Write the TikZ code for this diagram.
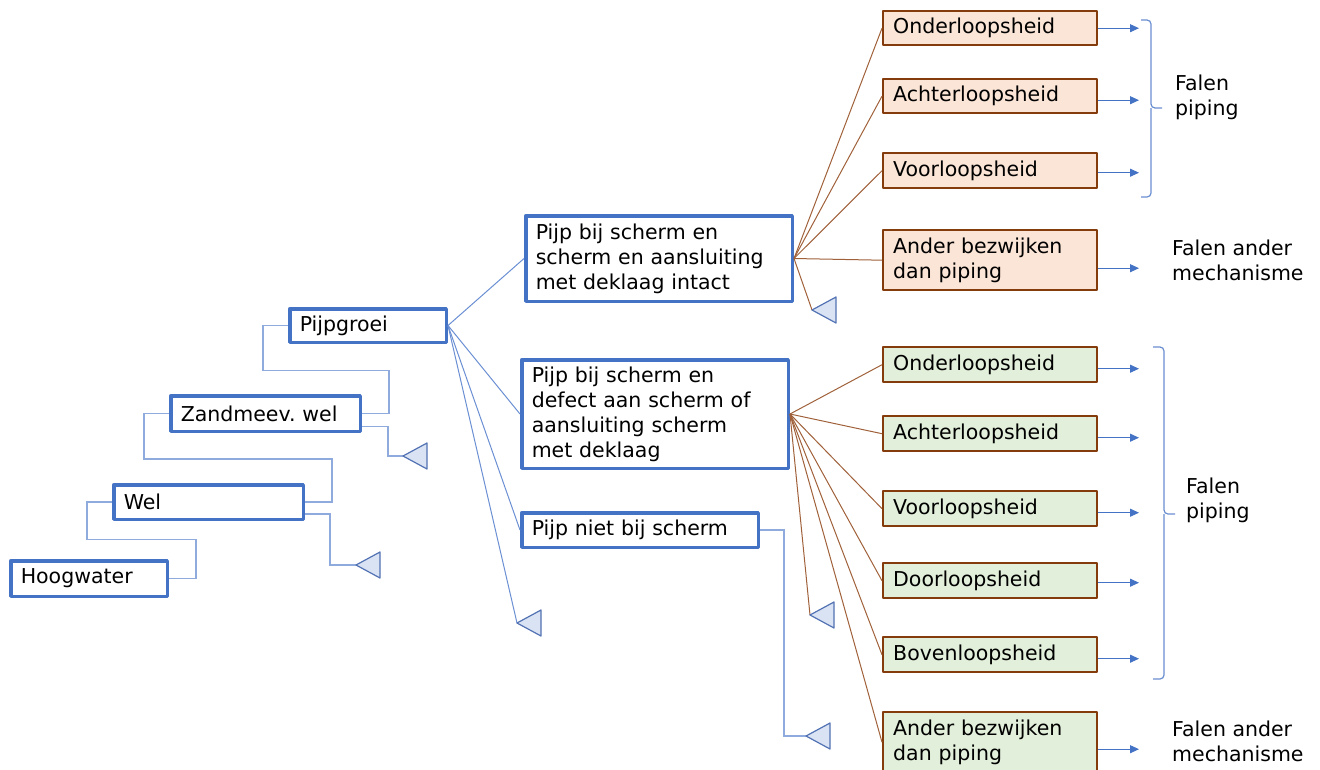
\documentclass[tikz,border=0pt]{standalone}
\usepackage{fontspec}
\setmainfont{DejaVu Sans}
\usepackage{tikz}
\usetikzlibrary{arrows.meta}
\usetikzlibrary{calc}

\definecolor{boxblue}{HTML}{4472C4}
\definecolor{elbowblue}{HTML}{8FAADC}
\definecolor{fanblue}{HTML}{6B8FD3}
\definecolor{fanbrown}{HTML}{A0613A}
\definecolor{boxbrown}{HTML}{843C0C}
\definecolor{orangefill}{HTML}{FBE5D6}
\definecolor{greenfill}{HTML}{E2EFDA}
\definecolor{trifill}{HTML}{DAE3F3}
\definecolor{triedge}{HTML}{5272B4}

\begin{document}
\begin{tikzpicture}[x=1pt,y=-1pt,
 every node/.style={font=\fontsize{20.5}{25}\selectfont},
 bluebox/.style={draw=boxblue,line width=3.5pt,fill=white,inner xsep=10pt,inner ysep=0pt,
   align=left,anchor=north west,line join=round},
 brownbox/.style={draw=boxbrown,line width=2.4pt,inner xsep=10pt,inner ysep=0pt,
   align=left,anchor=north west,text width=193.6pt,line join=round},
 orangebox/.style={brownbox,fill=orangefill},
 greenbox/.style={brownbox,fill=greenfill},
 falentext/.style={anchor=west,align=left,inner sep=0pt},
 elbow/.style={draw=elbowblue,line width=1.5pt},
 fan/.style={draw=fanblue,line width=1pt},
 brownfan/.style={draw=fanbrown,line width=1pt},
 outarrow/.style={draw=boxblue,line width=1pt,-{Triangle[length=9pt,width=8pt]}},
 braceline/.style={draw=boxblue!80,line width=1.2pt,rounded corners=4pt},
 stopmark/.style={draw=triedge,fill=trifill,line width=1.2pt,line join=round}]
 \useasboundingbox (0,0) rectangle (1320,769);
 \clip (0,0) rectangle (1320,769);

 \node[bluebox,text width=136.5pt,minimum height=35.5pt] (hoog) at (9,559) {Hoogwater};
 \node[bluebox,text width=169.5pt,minimum height=34.5pt] (wel) at (112,483) {Wel};
 \node[bluebox,text width=169.5pt,minimum height=35.5pt] (zand) at (169,394) {Zandmeev.\ wel};
 \node[bluebox,text width=136.5pt,minimum height=33.5pt] (pijp) at (288,307) {Pijpgroei};
 \node[bluebox,text width=246.5pt,minimum height=85.5pt] (boxa) at (524,214)
   {Pijp bij scherm en\\scherm en aansluiting\\met deklaag intact};
 \node[bluebox,text width=246.5pt,minimum height=108.5pt] (boxb) at (520,358)
   {Pijp bij scherm en\\defect aan scherm of\\aansluiting scherm\\met deklaag};
 \node[bluebox,text width=216.5pt,minimum height=34.5pt] (boxc) at (520,511) {Pijp niet bij scherm};

 \node[orangebox,minimum height=34pt] (oa) at (882,10) {Onderloopsheid};
 \node[orangebox,minimum height=34pt] (ob) at (882,78) {Achterloopsheid};
 \node[orangebox,minimum height=35pt] (oc) at (882,152) {Voorloopsheid};
 \node[orangebox,minimum height=60pt] (od) at (882,229) {Ander bezwijken\\dan piping};

 \node[greenbox,minimum height=35pt] (ga) at (882,346) {Onderloopsheid};
 \node[greenbox,minimum height=35pt] (gb) at (882,415) {Achterloopsheid};
 \node[greenbox,minimum height=35pt] (gc) at (882,490) {Voorloopsheid};
 \node[greenbox,minimum height=35pt] (gd) at (882,562) {Doorloopsheid};
 \node[greenbox,minimum height=35pt] (ge) at (882,636) {Bovenloopsheid};
 \node[greenbox,minimum height=60pt] (gf) at (882,711) {Ander bezwijken\\dan piping};

 \node[falentext] (falena) at (1175,97) {Falen\\piping};
 \node[falentext] (falenb) at (1172,260) {Falen ander\\mechanisme};
 \node[falentext] (falenc) at (1186,500) {Falen\\piping};
 \node[falentext] (falend) at (1172,741) {Falen ander\\mechanisme};

 \coordinate (tz) at (403,456);
 \coordinate (tw) at (356,565);
 \coordinate (tp) at (517,623);
 \coordinate (ta) at (812,310);
 \coordinate (tb) at (810,615);
 \coordinate (tc) at (806,736);

 \foreach \a/\b/\h in {hoog/wel/39,wel/zand/43,zand/pijp/43}
   \draw[elbow] (\a.east) -- ++(27,0) -- ++(0,-\h) -| ($(\b.west)+(-25,0)$) -- (\b.west);
 \draw[elbow] ($(zand.east)+(0,13)$) -- ++(26,0) |- (tz);
 \draw[elbow] ($(wel.east)+(0,12)$) -- ++(25,0) |- (tw);
 \draw[elbow] (boxc.east) -- ++(24,0) |- (tc);

 \foreach \t in {boxa,boxb,boxc}
   \draw[fan] (pijp.east) -- (\t.west);
 \draw[fan] (pijp.east) -- (tp);

 \foreach \t in {oa,ob,oc,od}
   \draw[brownfan] (boxa.east) -- (\t.west);
 \draw[brownfan] (boxa.east) -- (ta);
 \foreach \t in {ga,gb,gc,gd,ge,gf}
   \draw[brownfan] (boxb.east) -- (\t.west);
 \draw[brownfan] (boxb.east) -- (tb);

 \foreach \t in {tz,tw,tp,ta,tb,tc}
   \draw[stopmark] (\t) -- ++(24,-13) -- ++(0,26) -- cycle;

 \foreach \t/\d in {oa/0,ob/4,oc/2,od/8,ga/4,gb/4,gc/4,gd/2,ge/4,gf/7}
   \draw[outarrow] ($(\t.east)+(0,\d)$) -- ++(41,0);

 \draw[braceline] (1141,20) -| (1151,108) -- (1162,108);
 \draw[braceline] (1141,197) -| (1151,108);
 \draw[braceline] (1153,347) -| (1164,514) -- (1175,514);
 \draw[braceline] (1153,679) -| (1164,514);
\end{tikzpicture}
\end{document}
